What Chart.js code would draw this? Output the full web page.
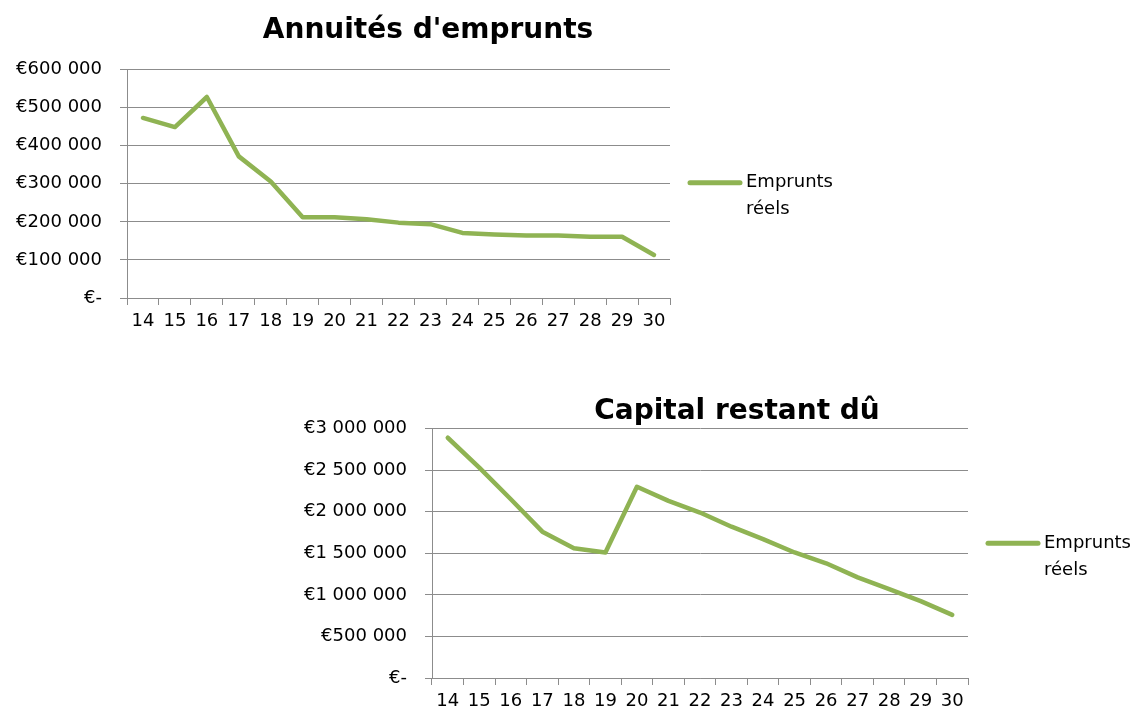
<!DOCTYPE html>
<html>
<head>
<meta charset="utf-8">
<script src="https://cdn.jsdelivr.net/npm/chart.js@4/dist/chart.umd.min.js"></script>
<style>
  html, body { margin: 0; padding: 0; background: #fff; overflow: hidden; width: 1143px; height: 713px; }
  .boite { position: absolute; }
</style>
</head>
<body>
<div class="boite" style="left:0px; top:0px; width:856px; height:340px;"><canvas id="annuites" width="856" height="340"></canvas></div>
<div class="boite" style="left:290px; top:380px; width:894px; height:340px;"><canvas id="capital" width="894" height="340"></canvas></div>
<script>
// annees (axe x)
const annees = ['14', '15', '16', '17', '18', '19', '20', '21', '22', '23', '24', '25', '26', '27', '28', '29', '30'];

// annuites d'emprunts
const annuites = [473000, 449000, 528000, 372000, 306000, 212000, 212000, 207000, 198000, 194000, 171000, 167000, 164000, 164000, 161000, 161000, 113000];

// capital restant du
const capital = [2890000, 2530000, 2150000, 1760000, 1560000, 1510000, 2300000, 2130000, 1990000, 1820000, 1670000, 1510000, 1380000, 1210000, 1070000, 925000, 760000];

const nomSerie = ['Emprunts', 'réels'];

const vert = '#8fb353';
const gris = '#8c8c8c';
const police = 'DejaVu Sans';

// format euro avec espaces
function formatEuro(v) {
    if (v === 0) return '€-';
    return '€' + String(v).replace(/\B(?=(\d{3})+(?!\d))/g, ' ');
}

// legende a droite (deux lignes)
const legendeDroite = {
    id: 'legendeDroite',
    afterDraw(chart, args, opts) {
        const ctx = chart.ctx;
        const area = chart.chartArea;
        const x = area.right + 20;
        const y = (area.top + area.bottom) / 2 + opts.decalage;
        ctx.save();
        ctx.strokeStyle = vert;
        ctx.lineWidth = 5;
        ctx.lineCap = 'round';
        ctx.beginPath();
        ctx.moveTo(x, y);
        ctx.lineTo(x + 50, y);
        ctx.stroke();
        ctx.fillStyle = '#000';
        ctx.font = '18px ' + police;
        ctx.textBaseline = 'middle';
        nomSerie.forEach((t, i) => ctx.fillText(t, x + 56, y + i * 27));
        ctx.restore();
    }
};

function creerGraphique(id, titre, valeurs, max, pas, largeurY, largeurDroite, padTitre, decalage) {
    const ctx = document.getElementById(id).getContext('2d');
    return new Chart(ctx, {
        type: 'line',
        data: {
            labels: annees,
            datasets: [{
                label: nomSerie.join(' '),
                data: valeurs,
                borderColor: vert,
                borderWidth: 4.5,
                pointRadius: 0,
                tension: 0,
                borderCapStyle: 'round',
                borderJoinStyle: 'round',
            }]
        },
        options: {
            responsive: false,
            animation: false,
            scales: {
                x: {
                    offset: true,
                    afterFit: (s) => { s.height = 42; },
                    grid: { offset: true, drawOnChartArea: false, drawTicks: true, tickLength: 7, color: gris },
                    border: { color: gris },
                    ticks: { color: '#000', font: { family: police, size: 18 }, padding: 6, maxRotation: 0, autoSkip: false },
                },
                y: {
                    min: 0,
                    max: max,
                    afterFit: (s) => { s.width = largeurY; },
                    ticks: { stepSize: pas, color: '#000', font: { family: police, size: 18 }, padding: 18, callback: formatEuro },
                    grid: { color: gris, tickLength: 7 },
                    border: { color: gris },
                },
                // axe vide a droite: place pour la legende
                place: {
                    position: 'right',
                    min: 0,
                    max: 1,
                    afterFit: (s) => { s.width = largeurDroite; },
                    ticks: { display: false },
                    grid: { display: false },
                    border: { display: false },
                }
            },
            plugins: {
                legend: { display: false },
                tooltip: { enabled: false },
                title: {
                    display: true,
                    text: titre,
                    color: '#000',
                    font: { family: police, size: 28, weight: 'bold' },
                    padding: padTitre,
                },
                legendeDroite: { decalage: decalage },
            }
        },
        plugins: [legendeDroite]
    });
}

creerGraphique('annuites', "Annuités d'emprunts", annuites, 600000, 100000, 127, 186, { top: 14, bottom: 22 }, -1);
creerGraphique('capital', 'Capital restant dû', capital, 3000000, 500000, 142, 216, { top: 15, bottom: 0 }, -10);
</script>
</body>
</html>
